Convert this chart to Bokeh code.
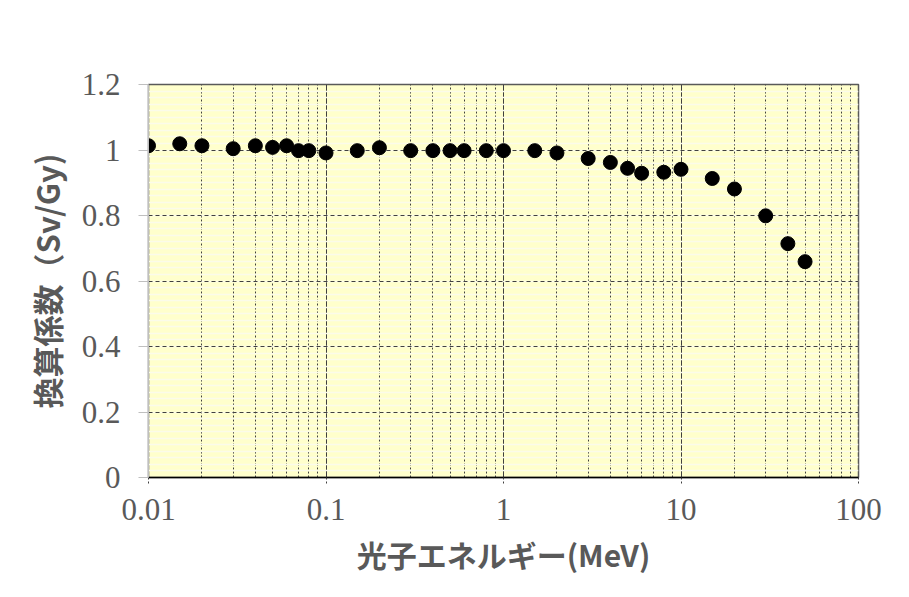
from bokeh.plotting import figure
from bokeh.models import FixedTicker
from bokeh.embed import file_html
from bokeh.resources import INLINE

# photon energy (MeV)
energy = [0.01, 0.015, 0.02, 0.03, 0.04, 0.05, 0.06, 0.07, 0.08, 0.1,
          0.15, 0.2, 0.3, 0.4, 0.5, 0.6, 0.8, 1.0,
          1.5, 2.0, 3.0, 4.0, 5.0, 6.0, 8.0, 10.0,
          15.0, 20.0, 30.0, 40.0, 50.0]
# conversion coefficient (Sv/Gy)
coef = [1.013, 1.019, 1.013, 1.004, 1.013, 1.008, 1.013, 0.998, 0.998, 0.991,
        0.998, 1.007, 0.998, 0.998, 0.998, 0.998, 0.998, 0.998,
        0.998, 0.991, 0.974, 0.962, 0.944, 0.929, 0.932, 0.941,
        0.913, 0.881, 0.799, 0.714, 0.659]

x_ticks = [0.01, 0.1, 1, 10, 100]
x_tick_labels = ["0.01", "0.1", "1", "10", "100"]
x_minor = [m * 10.0 ** e for e in range(-2, 2) for m in range(2, 10)]

y_ticks = [0, 0.2, 0.4, 0.6, 0.8, 1.0, 1.2]
y_tick_labels = ["0", "0.2", "0.4", "0.6", "0.8", "1", "1.2"]
y_minor = [round(0.02 * i, 2) for i in range(0, 61)]

x_label = "光子エネルギー(MeV)"
y_label = "換算係数（Sv/Gy)"

p = figure(width=909, height=597, x_axis_type="log",
           x_range=(0.01, 100), y_range=(0, 1.2),
           output_backend="svg", toolbar_location=None,
           min_border_left=148, min_border_right=51,
           min_border_top=84, min_border_bottom=120)

p.background_fill_color = "#ffffcc"
p.border_fill_color = "white"
p.outline_line_color = "#595959"
p.outline_line_width = 1.5

# x axis
p.xaxis.ticker = FixedTicker(ticks=x_ticks, minor_ticks=x_minor)
p.xaxis.major_label_overrides = {t: l for t, l in zip(x_ticks, x_tick_labels)}
p.xaxis.axis_line_color = "black"
p.xaxis.axis_line_width = 1.5
p.xaxis.major_tick_out = 6
p.xaxis.major_tick_in = 0
p.xaxis.major_tick_line_color = "#404040"
p.xaxis.major_tick_line_dash = "2 2"
p.xaxis.minor_tick_out = 0
p.xaxis.minor_tick_in = 0
p.xaxis.major_label_text_font = "Liberation Serif"
p.xaxis.major_label_text_font_size = "31px"
p.xaxis.major_label_text_color = "#595959"
p.xaxis.major_label_standoff = 15
p.xaxis.axis_label = x_label
p.xaxis.axis_label_text_font = "Noto Sans CJK JP"
p.xaxis.axis_label_text_font_style = "bold"
p.xaxis.axis_label_text_font_size = "30px"
p.xaxis.axis_label_text_color = "#595959"
p.xaxis.axis_label_standoff = 9

# y axis
p.yaxis.ticker = FixedTicker(ticks=y_ticks, minor_ticks=y_minor)
p.yaxis.major_label_overrides = {t: l for t, l in zip(y_ticks, y_tick_labels)}
p.yaxis.axis_line_color = "#bfbfbf"
p.yaxis.major_tick_out = 10
p.yaxis.major_tick_in = 0
p.yaxis.major_tick_line_color = "#bfbfbf"
p.yaxis.minor_tick_out = 0
p.yaxis.minor_tick_in = 0
p.yaxis.major_label_text_font = "Liberation Serif"
p.yaxis.major_label_text_font_size = "31px"
p.yaxis.major_label_text_color = "#595959"
p.yaxis.major_label_standoff = 18
p.yaxis.axis_label = y_label
p.yaxis.axis_label_text_font = "Noto Sans CJK JP"
p.yaxis.axis_label_text_font_style = "bold"
p.yaxis.axis_label_text_font_size = "31px"
p.yaxis.axis_label_text_color = "#595959"
p.yaxis.axis_label_standoff = 10

# grids
p.xgrid.grid_line_color = "#404040"
p.xgrid.grid_line_width = 1
p.xgrid.minor_grid_line_color = "#404040"
p.xgrid.minor_grid_line_dash = "2 2"
p.xgrid.minor_grid_line_width = 1

p.ygrid.grid_line_color = "#404040"
p.ygrid.grid_line_dash = "4 3"
p.ygrid.grid_line_width = 1
p.ygrid.minor_grid_line_color = "#fbfbea"
p.ygrid.minor_grid_line_width = 1.5
p.ygrid.level = "underlay"

p.scatter(energy, coef, size=14, color="black")

open("out.html", "w").write(file_html(p, INLINE))
